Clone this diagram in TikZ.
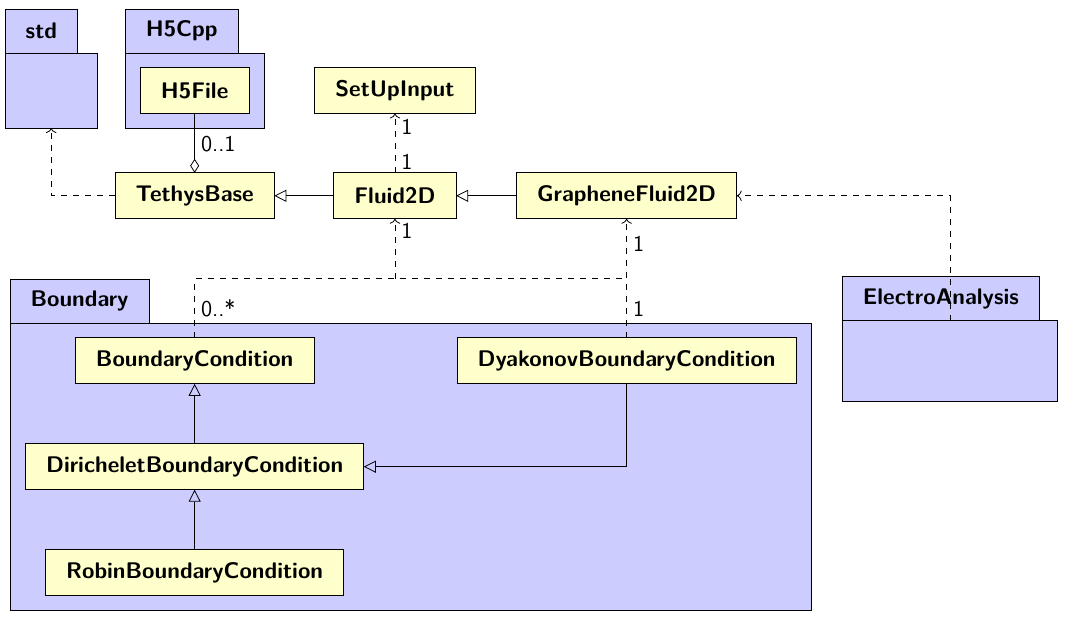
\documentclass[tikz,border=0pt]{standalone}
\usepackage{fontspec}
\usetikzlibrary{arrows.meta,positioning,calc}
\definecolor{pkgfill}{RGB}{204,204,255}
\definecolor{clsfill}{RGB}{255,255,204}
\tikzset{
  cls/.style={rectangle, draw=black, fill=clsfill, font=\fontsize{11.3}{13}\selectfont\sffamily\bfseries, inner xsep=10.3pt, minimum height=23pt, outer sep=0pt},
  pkg/.style={rectangle, draw=black, fill=pkgfill, outer sep=0pt},
  tab/.style={rectangle, draw=black, fill=pkgfill, font=\fontsize{11.3}{13}\selectfont\sffamily\bfseries, inner xsep=10.3pt, minimum height=22pt, outer sep=0pt, anchor=south west},
  gen/.style={-{Triangle[open, length=6pt, width=6pt]}},
  dep/.style={dashed},
  agg/.style={-{Diamond[open, length=7pt, width=4.5pt]}},
  mult/.style={right, inner sep=3pt},
}
\begin{document}
\begin{tikzpicture}[font=\fontsize{11.3}{13}\selectfont\sffamily, >=To, line width=0.4pt]
  \useasboundingbox (0,0) rectangle (18.73,10.93);
  % packages
  \node[pkg, minimum width=1.62cm, minimum height=1.32cm] (std) at (0.90,9.34) {};
  \node[tab] (stdtab) at (std.north west) {std};
  \node[pkg, minimum width=2.44cm, minimum height=1.32cm] (h5cpp) at (3.42,9.34) {};
  \node[tab] (h5cpptab) at (h5cpp.north west) {H5Cpp};
  \node[pkg, minimum width=14.09cm, minimum height=5.04cm] (boundary) at (7.22,2.73) {};
  \node[tab] (boundarytab) at (boundary.north west) {Boundary};
  \node[pkg, minimum width=3.78cm, minimum height=1.41cm] (ea) at (16.69,4.59) {};
  \node[tab] (eatab) at (ea.north west) {ElectroAnalysis};
  % classes
  \node[cls] (h5file) at (3.42,9.34) {H5File};
  \node[cls] (setup) at (6.94,9.34) {SetUpInput};
  \node[cls] (tethys) at (3.42,7.49) {TethysBase};
  \node[cls] (fluid) at (6.94,7.49) {Fluid2D};
  \node[cls] (graphene) at (11.01,7.49) {GrapheneFluid2D};
  \node[cls] (bc) at (3.42,4.59) {BoundaryCondition};
  \node[cls] (dyak) at (11.01,4.59) {DyakonovBoundaryCondition};
  \node[cls] (dirich) at (3.42,2.73) {DiricheletBoundaryCondition};
  \node[cls] (robin) at (3.42,0.87) {RobinBoundaryCondition};
  \coordinate (bus) at (0,6.03);
  % links
  \draw[agg] (h5file.south) -- node[mult, pos=0.52] {0..1} (tethys.north);
  \draw[dep, ->] (tethys.west) -| (std.south);
  \draw[dep, ->] (fluid.north) -- node[mult, pos=0.18] {1} node[mult, pos=0.78] {1} (setup.south);
  \draw[gen] (fluid.west) -- (tethys.east);
  \draw[gen] (graphene.west) -- (fluid.east);
  \draw[dep, ->] (ea.north) |- (graphene.east);
  \draw[dep] (bc.north) -- node[mult] {0..*} (bc.north |- bus) -- (bus -| dyak.north);
  \draw[dep, ->] (bus -| fluid.south) -- node[mult, pos=0.8] {1} (fluid.south);
  \draw[dep, ->] (dyak.north) -- node[mult, pos=0.24] {1} node[mult, pos=0.79] {1} (graphene.south);
  \draw[gen] (dirich.north) -- (bc.south);
  \draw[gen] (robin.north) -- (dirich.south);
  \draw[gen] (dyak.south) |- (dirich.east);
\end{tikzpicture}
\end{document}
